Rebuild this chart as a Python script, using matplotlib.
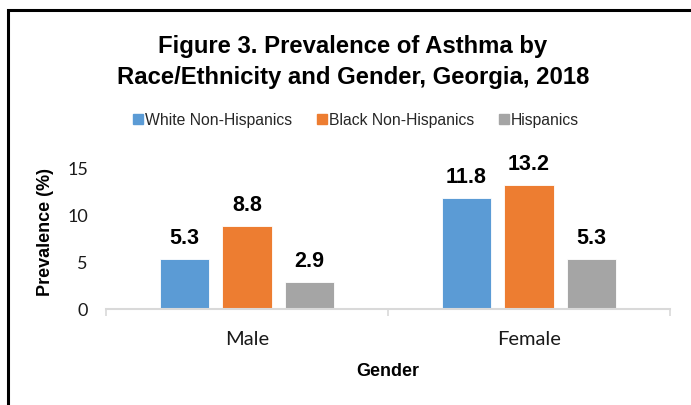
import matplotlib
matplotlib.use("Agg")
import matplotlib.pyplot as plt
import numpy as np
from matplotlib.lines import Line2D
from matplotlib.patches import Rectangle

genders = ["Male", "Female"]
groups = ["White Non-Hispanics", "Black Non-Hispanics", "Hispanics"]
white = [5.3, 11.8]
black = [8.8, 13.2]
hispanic = [2.9, 5.3]
yticks = [0, 5, 10, 15]

colors = ["#5B9BD5", "#ED7D31", "#A5A5A5"]
W, H = 691, 406

fig = plt.figure(figsize=(W / 100, H / 100), dpi=100)
ax = fig.add_axes([106 / W, (H - 310) / H, 564 / W, 141 / H])

x = np.arange(len(genders))
width = 0.174
offsets = [-0.222, 0.0, 0.222]
for vals, off, c in zip([white, black, hispanic], offsets, colors):
    bars = ax.bar(x + off, vals, width, color=c, edgecolor="white", linewidth=0.6, zorder=2)
    for b, v in zip(bars, vals):
        ax.annotate(f"{v:.1f}", (b.get_x() + b.get_width() / 2, v),
                    xytext=(0, 11.5), textcoords="offset points",
                    ha="center", va="baseline", fontsize=15.5,
                    fontweight="bold", family="Liberation Sans", color="black")

ax.set_xlim(-0.5, 1.5)
ax.set_ylim(0, 15)
ax.set_yticks(yticks)
ax.set_yticklabels([str(t) for t in yticks], family="Lato", fontsize=13, color="#1a1a1a")
ax.set_xticks([-0.5, 0.5, 1.5], minor=False)
ax.set_xticklabels([])
ax.set_xticks(x, minor=True)
ax.set_xticklabels(genders, minor=True, family="Lato", fontsize=14.5, color="#1a1a1a")
ax.tick_params(axis="x", which="major", length=5, color="#d9d9d9", width=1.2)
ax.tick_params(axis="x", which="minor", length=0, pad=15)
ax.tick_params(axis="y", length=0, pad=13)

for s in ["top", "right", "left"]:
    ax.spines[s].set_visible(False)
ax.spines["bottom"].set_color("#d9d9d9")
ax.spines["bottom"].set_linewidth(1.5)

fig.text(46 / W, 1 - 232 / H, "Prevalence (%)", rotation=90, ha="center", va="center",
         fontsize=13, fontweight="bold", family="Liberation Sans")
fig.text(388 / W, 1 - 371 / H, "Gender", ha="center", va="center",
         fontsize=13, fontweight="bold", family="Liberation Sans")

fig.text(353 / W, 1 - 53 / H, "Figure 3. Prevalence of Asthma by", ha="center",
         va="baseline", fontsize=17.2, fontweight="bold", family="Liberation Sans")
fig.text(353 / W, 1 - 84 / H, "Race/Ethnicity and Gender, Georgia, 2018", ha="center",
         va="baseline", fontsize=17.2, fontweight="bold", family="Liberation Sans")

handles = [Line2D([], [], marker="s", linestyle="none", markersize=7.2,
                  markerfacecolor=c, markeredgecolor=c) for c in colors]
fig.legend(handles, groups, loc="center", bbox_to_anchor=(356 / W, 1 - 121 / H),
           ncol=3, frameon=False, handlelength=0.6, handletextpad=0.15,
           columnspacing=1.6, prop={"family": "Liberation Sans", "size": 11.3},
           labelcolor="#262626")

fig.patches.append(Rectangle((7.5 / W, -0.1), 1.2, 1 - 10.5 / H + 0.1,
                             transform=fig.transFigure, fill=False,
                             edgecolor="black", linewidth=2.2))

fig.savefig("out.png", dpi=100)
